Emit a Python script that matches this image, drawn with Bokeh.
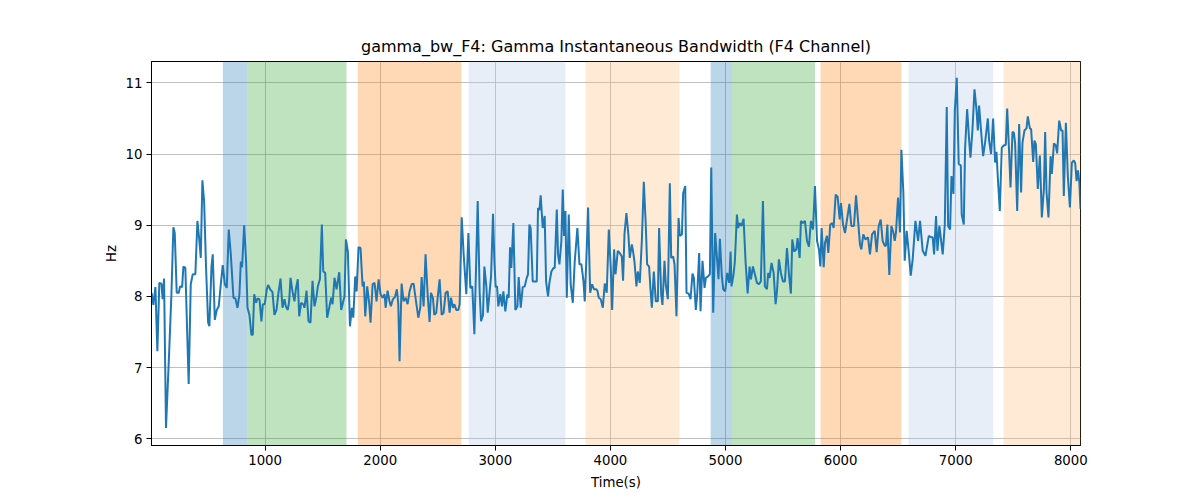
from bokeh.plotting import figure
from bokeh.models import Range1d, BoxAnnotation, FixedTicker
from bokeh.embed import file_html
from bokeh.resources import INLINE

title_text = "gamma_bw_F4: Gamma Instantaneous Bandwidth (F4 Channel)"
x_label = "Time(s)"
y_label = "Hz"
x_ticks = [1000, 2000, 3000, 4000, 5000, 6000, 7000, 8000]
y_ticks = [6, 7, 8, 9, 10, 11]

t_seg1 = [14,29,47,64,81,99,110,122,139,168,186,203,215,232,250,261,279,290,307,336,354,371,394,412,429,441,455,470,487,505,516,534,545,563,580,597,615,632,650,667,684,702,725,742,760,777,789,800,818,835,847,864,881,893,905,922,934,951,968,980,997,1015,1026,1044]
hz_seg1 = [8.05,7.88,8.13,7.23,8.19,8.18,7.96,8.25,6.15,7.28,8.03,8.97,8.89,8.05,8.05,8.14,8.13,8.42,8.40,6.77,8.17,8.31,8.31,9.06,8.78,8.54,9.63,9.34,8.40,7.63,7.58,8.42,8.59,7.67,7.81,7.86,8.17,8.44,8.17,8.12,8.94,8.59,7.98,7.97,7.84,8.03,8.49,8.41,9.00,8.49,7.84,7.74,7.46,7.46,8.03,7.91,7.97,7.96,7.65,7.89,7.89,8.10,8.16,8.10]

t_seg2 = [1064,1081,1099,1116,1134,1151,1168,1180,1197,1209,1221,1238,1255,1267,1284,1296,1313,1331,1342,1360,1377,1394,1412,1429,1447,1458,1476,1493,1505,1522,1539,1557,1574,1586,1603,1621,1644,1661,1679,1690,1702,1719,1737,1754,1766,1783,1795,1812,1829,1847,1858,1870,1887,1905,1916,1934,1951,1968,1986,2003,2021,2038]
hz_seg2 = [8.06,7.74,7.81,8.05,8.25,7.84,7.96,7.86,7.81,7.93,8.26,8.07,7.93,8.10,8.24,7.72,7.91,7.89,7.84,8.08,7.65,7.63,8.22,7.86,8.00,8.14,8.24,9.01,8.35,8.33,7.70,7.84,7.98,7.89,8.26,8.10,8.34,7.81,7.93,8.00,8.80,8.63,7.58,7.84,7.70,8.28,8.07,8.69,8.68,8.14,8.21,7.72,8.14,7.89,7.63,8.17,8.19,7.93,8.24,8.03,7.98,8.03]

t_seg3 = [2047,2064,2081,2093,2110,2128,2145,2157,2168,2186,2203,2221,2238,2255,2273,2290,2307,2331,2348,2360,2377,2394,2412,2429,2441,2458,2470,2487,2499,2516,2534,2551,2568,2586,2603,2615,2632,2644,2661,2679,2690,2708,2725,2748,2766,2783,2800,2818,2829,2847,2864,2876,2893,2905,2922,2934,2951,2963,2980,2992,3003,3015,3026,3044]
hz_seg3 = [7.84,8.08,7.93,7.86,7.96,7.99,8.10,7.89,7.09,8.18,7.93,7.98,7.89,8.07,8.17,8.18,7.98,7.70,7.84,8.27,7.86,8.59,8.03,7.64,8.05,7.98,7.74,7.77,7.98,8.24,7.74,7.77,8.05,8.07,7.77,7.98,7.84,7.89,7.81,7.81,7.89,9.11,8.59,8.03,8.89,8.12,8.14,7.47,8.17,9.34,8.05,7.65,7.74,8.42,8.14,7.77,8.07,8.28,9.16,8.49,8.13,8.14,7.86,8.03]

t_seg4 = [3058,3070,3087,3105,3116,3128,3139,3157,3174,3192,3203,3221,3238,3255,3273,3284,3296,3307,3325,3342,3360,3371,3383,3394,3412,3429,3441,3458,3470,3487,3505,3516,3534,3545,3557,3574,3586,3597,3609,3621,3638,3655,3673,3690,3713,3731,3748,3766,3777,3795,3806,3824,3841,3858,3876,3887,3899,3916,3934,3951,3968,3986,4003,4015,4032,4044]
hz_seg4 = [7.86,8.07,7.79,8.03,7.98,8.69,8.40,9.03,7.81,7.86,8.27,7.84,8.13,8.14,8.26,8.31,9.01,8.96,8.21,8.21,8.21,9.24,9.21,9.42,8.96,9.13,8.21,8.00,8.19,8.35,8.40,8.40,9.22,8.59,8.45,8.78,9.50,8.85,9.20,7.98,9.15,8.17,7.91,8.49,8.96,8.45,8.45,8.21,7.93,8.70,9.25,8.05,8.17,8.10,8.10,8.08,7.98,7.96,7.84,8.18,8.05,8.94,8.40,7.81,8.66,8.31]

t_seg5 = [4064,4081,4099,4110,4122,4139,4157,4168,4186,4197,4209,4226,4238,4255,4273,4290,4307,4319,4336,4348,4360,4377,4394,4412,4423,4441,4452,4470,4481,4499,4516,4528,4545,4557,4574,4592,4603,4621,4632,4650,4661,4679,4696,4713,4725,4742,4754,4771,4783,4800,4818,4829,4847,4864,4876,4893,4910,4928,4939,4951,4968,4980,4997,5015,5032,5044]
hz_seg5 = [8.64,8.61,8.56,8.22,8.87,9.17,8.85,8.54,8.73,8.63,8.49,8.14,8.35,8.19,8.78,9.61,9.01,8.45,8.42,8.10,7.84,8.35,7.93,7.93,8.96,8.03,7.88,8.50,8.17,7.96,9.59,8.54,8.56,8.45,7.72,9.10,8.85,8.87,9.45,9.55,8.05,8.04,7.96,8.32,8.26,7.81,8.03,8.61,7.79,8.50,8.12,8.26,8.28,8.31,9.81,7.77,8.89,8.49,8.24,8.81,8.28,8.10,8.07,8.33,8.19,8.63]

t_seg6 = [5052,5070,5081,5099,5110,5122,5139,5157,5174,5192,5209,5221,5238,5255,5273,5290,5307,5325,5342,5360,5371,5383,5400,5418,5435,5447,5464,5481,5499,5516,5534,5551,5568,5580,5597,5615,5626,5644,5655,5673,5690,5708,5725,5742,5760,5777,5795,5812,5824,5835,5853,5864,5881,5893,5910,5928,5939,5957,5974,5992,6003,6021,6038]
hz_seg6 = [8.14,8.31,8.49,9.15,8.96,9.03,8.99,9.09,8.49,8.04,8.42,8.24,8.42,8.31,8.19,8.17,8.21,9.34,8.14,8.10,8.33,8.26,8.47,8.33,7.89,8.07,8.52,8.33,8.21,8.21,8.68,8.31,8.04,8.80,8.63,8.66,8.82,8.54,9.06,9.03,9.06,8.78,8.70,9.06,8.94,9.55,8.78,8.66,8.42,8.96,8.41,8.75,8.85,8.61,9.01,9.03,8.96,9.43,9.40,9.08,9.31,9.01,8.89]

t_seg7 = [6076,6093,6116,6134,6168,6180,6197,6215,6238,6255,6273,6296,6313,6331,6348,6365,6383,6394,6406,6423,6441,6458,6470,6481,6499,6516,6528,6545,6557,6574,6592,6609,6626,6650,6673,6690,6713,6737,6766,6789,6800,6812,6829,6841,6858,6887,6905,6922,6934,6951,6963,6980,6992,7009,7026,7044]
hz_seg7 = [9.30,8.99,8.99,9.42,8.73,8.66,8.87,8.80,8.83,8.59,8.87,8.92,8.62,8.99,9.08,8.78,8.71,8.71,9.01,8.30,8.99,8.90,8.78,8.90,9.39,8.90,10.06,9.46,8.50,8.92,8.62,8.29,8.52,9.06,8.78,9.06,8.64,8.57,8.85,8.83,8.83,8.59,9.13,8.64,8.99,8.59,9.01,10.66,8.99,8.94,9.69,9.44,10.61,11.07,9.86,9.84]

t_seg8 = [7052,7070,7081,7099,7116,7128,7145,7163,7180,7192,7203,7221,7238,7255,7279,7290,7307,7325,7342,7354,7365,7383,7400,7418,7435,7447,7464,7476,7493,7505,7516,7534,7551,7568,7580,7597,7615,7626,7644,7655,7673,7684,7696,7713,7731,7748,7766,7777,7789,7806,7824,7835,7853,7870,7881,7899,7916,7928,7939,7957,7974,7992,8009,8026,8038,8050,8062,8074,8084]
hz_seg8 = [9.15,9.01,10.07,10.63,10.21,9.95,10.33,10.91,10.63,10.33,10.68,10.31,9.97,10.16,10.50,10.19,10.00,10.50,9.88,10.03,9.69,9.20,10.09,10.12,10.13,10.64,10.02,9.53,10.31,10.30,10.15,9.20,10.42,9.46,10.16,10.33,10.36,10.53,10.36,10.35,9.89,10.19,10.14,9.51,9.98,9.11,9.51,10.31,9.46,9.11,9.97,9.72,10.15,10.12,10.01,10.47,10.33,10.33,9.41,10.44,9.69,9.25,9.88,9.91,9.87,9.62,9.77,9.60,9.23]

# shaded phases
span_start = [633, 847, 1805, 2769, 3785, 4871, 5056, 5826, 6591, 7416]
span_end = [847, 1707, 2705, 3609, 4599, 5056, 5777, 6527, 7326, 8100]
span_color = ["#1f77b4", "#2ca02c", "#ff7f0e", "#aec7e8", "#ffbb78",
              "#1f77b4", "#2ca02c", "#ff7f0e", "#aec7e8", "#ffbb78"]

time_s = t_seg1 + t_seg2 + t_seg3 + t_seg4 + t_seg5 + t_seg6 + t_seg7 + t_seg8
bw_hz = hz_seg1 + hz_seg2 + hz_seg3 + hz_seg4 + hz_seg5 + hz_seg6 + hz_seg7 + hz_seg8

FONT = "DejaVu Sans"

p = figure(frame_width=929, frame_height=384,
           min_border_left=151, min_border_right=104,
           min_border_top=61, min_border_bottom=44,
           x_range=Range1d(13, 8084), y_range=Range1d(5.905, 11.30),
           output_backend="svg", toolbar_location=None, title=title_text)

p.title.text_font = FONT
p.title.text_font_size = "16px"
p.title.text_font_style = "normal"
p.title.align = "center"
p.title.text_color = "black"
p.title.standoff = 12

for s, e, c in zip(span_start, span_end, span_color):
    box = BoxAnnotation(left=s, right=e, fill_color=c, fill_alpha=0.3,
                        line_color=None, level="underlay")
    p.add_layout(box)

p.line(time_s, bw_hz, line_color="#1f77b4", line_width=2)

p.xaxis.ticker = FixedTicker(ticks=x_ticks)
p.yaxis.ticker = FixedTicker(ticks=y_ticks)
p.xaxis.axis_label = x_label
p.yaxis.axis_label = y_label

for ax in (p.xaxis, p.yaxis):
    ax.axis_label_text_font = FONT
    ax.axis_label_text_font_size = "13.3px"
    ax.axis_label_text_font_style = "normal"
    ax.axis_label_text_color = "black"
    ax.major_label_text_font = FONT
    ax.major_label_text_font_size = "13.3px"
    ax.major_label_text_color = "black"
    ax.axis_line_color = "black"
    ax.major_tick_line_color = "black"
    ax.major_tick_out = 5
    ax.major_tick_in = 0
    ax.minor_tick_line_color = None
    ax.major_label_standoff = 4

p.xaxis.axis_label_standoff = 7
p.yaxis.axis_label_standoff = 4

p.grid.grid_line_color = "#b0b0b0"
p.grid.grid_line_width = 0.8
p.outline_line_color = "black"
p.outline_line_alpha = 1
p.outline_line_width = 1
p.background_fill_color = "white"
p.border_fill_color = "white"

open("out.html", "w").write(file_html(p, INLINE))
